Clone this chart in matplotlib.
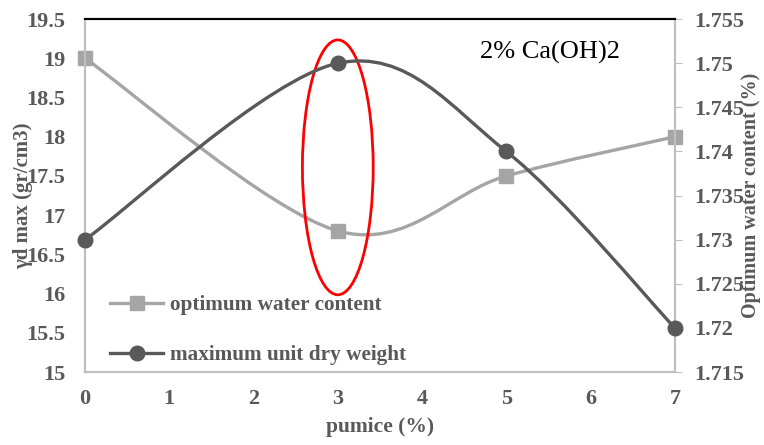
import numpy as np
import matplotlib
matplotlib.use("Agg")
import matplotlib.pyplot as plt
from matplotlib.path import Path
from matplotlib.patches import PathPatch, Ellipse
from matplotlib.lines import Line2D

pumice = [0, 3, 5, 7]
water_content = [19.0, 16.8, 17.5, 18.0]       # left axis
dry_weight = [1.73, 1.75, 1.74, 1.72]          # right axis

left_ticks = [15, 15.5, 16, 16.5, 17, 17.5, 18, 18.5, 19, 19.5]
right_ticks = [1.715, 1.72, 1.725, 1.73, 1.735, 1.74, 1.745, 1.75, 1.755]

light = "#A5A5A5"
dark = "#595959"
txt = "#595959"

plt.rcParams["font.family"] = ["Liberation Serif", "DejaVu Serif"]


def smooth_path(xs, ys):
    # Excel-style smoothed line: cubic Bezier through every point
    pts = np.column_stack([xs, ys]).astype(float)
    n = len(pts)
    verts = [pts[0]]
    codes = [Path.MOVETO]
    for i in range(n - 1):
        p0 = pts[i - 1] if i > 0 else pts[i]
        p1, p2 = pts[i], pts[i + 1]
        p3 = pts[i + 2] if i + 2 < n else pts[i + 1]
        verts += [p1 + (p2 - p0) / 6, p2 - (p3 - p1) / 6, p2]
        codes += [Path.CURVE4] * 3
    return Path(verts, codes)


fig = plt.figure(figsize=(7.64, 4.45), dpi=100)
ax = fig.add_axes([0.1113, 0.164, 0.772, 0.793])
ax2 = ax.twinx()

ax.add_patch(PathPatch(smooth_path(pumice, water_content), fill=False,
                       edgecolor=light, lw=2.4, zorder=2))
ax.plot(pumice, water_content, ls="none", marker="s", ms=10.5, color=light,
        zorder=3, clip_on=False)

ax2.add_patch(PathPatch(smooth_path(pumice, dry_weight), fill=False,
                        edgecolor=dark, lw=2.4, zorder=2))
ax2.plot(pumice, dry_weight, ls="none", marker="o", ms=10.5, color=dark,
         zorder=3, clip_on=False)

ax.set_xlim(0, 7)
ax.set_ylim(15, 19.5)
ax2.set_ylim(1.715, 1.755)
ax.set_xticks(range(8))
ax.set_yticks(left_ticks)
ax.set_yticklabels([f"{v:g}" for v in left_ticks])
ax2.set_yticks(right_ticks)
ax2.set_yticklabels([f"{v:g}" for v in right_ticks])

for a in (ax, ax2):
    for s in a.spines.values():
        s.set_color("#BFBFBF")
        s.set_linewidth(1.5)
    a.spines["top"].set_color("black")
    a.tick_params(labelsize=16, colors=txt)
    for lab in a.get_xticklabels() + a.get_yticklabels():
        lab.set_fontweight("bold")
ax.tick_params(axis="y", length=0, pad=14)
ax.tick_params(axis="x", length=0, pad=12)
ax2.tick_params(axis="y", length=5, color="#BFBFBF", pad=9)

ax.set_xlabel("pumice (%)", fontsize=15.5, fontweight="bold", color=txt, labelpad=6)
ax.set_ylabel("γd max (gr/cm3)", fontsize=15, fontweight="bold", color=txt)
ax.yaxis.set_label_coords(-0.088, 0.5)
ax2.set_ylabel("Optimum water content (%)", fontsize=14.5, fontweight="bold", color=txt)
ax2.yaxis.set_label_coords(1.112, 0.5)

ax.text(0.67, 0.906, "2% Ca(OH)2", transform=ax.transAxes, fontsize=19,
        color="black", va="center")

ax.add_patch(Ellipse((3, 17.61), 0.84, 3.25, fill=False, edgecolor="red", lw=2, zorder=4))

handles = [Line2D([], [], color=light, lw=2.4, marker="s", ms=10.5),
           Line2D([], [], color=dark, lw=2.4, marker="o", ms=10.5)]
leg = ax.legend(handles, ["optimum water content", "maximum unit dry weight"],
                loc="lower left", bbox_to_anchor=(0.01, -0.035), frameon=False,
                prop={"weight": "bold", "size": 15.3}, handlelength=2.5,
                handletextpad=0.3, labelspacing=1.4)
for t in leg.get_texts():
    t.set_color(txt)

fig.savefig("out.png", dpi=100)
